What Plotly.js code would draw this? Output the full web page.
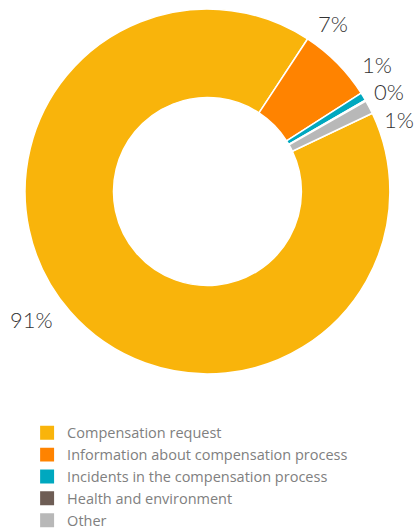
<!DOCTYPE html>
<html>
<head>
<meta charset="utf-8">
<script src="https://cdn.plot.ly/plotly-3.0.1.min.js"></script>
<style>
html,body{margin:0;padding:0;background:#fff;}
#chart{width:417px;height:531px;}
#chart path.legendpie{transform:translate(20px,0px) scale(1.33);}
</style>
</head>
<body>
<div id="chart"></div>
<script>
var categories = ["Compensation request", "Information about compensation process", "Incidents in the compensation process", "Health and environment", "Other"];
var values = [91.3, 6.7, 0.7, 0.1, 1.2];
var percentLabels = ["91%", "7%", "1%", "0%", "1%"];
var colors = ["#F9B40B", "#FF8300", "#00A8BF", "#6E5D55", "#B8B8B8"];

var W = 417, H = 531;
var rotation = 64.6;
var domX = [0.06, 0.935], domY = [0.2957, 0.983];

// label placement styling (angular nudge in degrees, radial factor)
var labelNudge = [5, -8.5, -5.5, 1, 7];
var labelRad = [1.19, 1.15, 1.16, 1.135, 1.12];

var trace = {
  type: "pie",
  labels: categories,
  values: values,
  sort: false,
  direction: "clockwise",
  rotation: rotation,
  hole: 0.515,
  marker: {colors: colors, line: {color: "#ffffff", width: 1.5}},
  textinfo: "none",
  domain: {x: domX, y: domY},
  hoverinfo: "none"
};

// compute outside label positions from the values
var total = values.reduce(function(a, b) { return a + b; }, 0);
var cx = (domX[0] + domX[1]) / 2 * W;
var cyPx = H - (domY[0] + domY[1]) / 2 * H;
var R = Math.min((domX[1] - domX[0]) * W, (domY[1] - domY[0]) * H) / 2;
var annotations = [];
var cum = 0;
for (var i = 0; i < values.length; i++) {
  var mid = rotation + (cum + values[i] / 2) / total * 360 + labelNudge[i];
  cum += values[i];
  var a = mid * Math.PI / 180;
  var px = cx + R * labelRad[i] * Math.sin(a);
  var py = cyPx - R * labelRad[i] * Math.cos(a);
  annotations.push({
    xref: "paper", yref: "paper",
    x: px / W, y: 1 - py / H,
    xanchor: "center", yanchor: "middle",
    text: percentLabels[i],
    showarrow: false,
    font: {family: "Lato, sans-serif", size: 22, color: "#333333", weight: 300}
  });
}

var layout = {
  width: W,
  height: H,
  margin: {l: 0, r: 0, t: 0, b: 0, autoexpand: false},
  paper_bgcolor: "#ffffff",
  showlegend: true,
  annotations: annotations,
  legend: {
    x: 0.065, xanchor: "left",
    y: 0.215, yanchor: "top",
    font: {family: "Open Sans, sans-serif", size: 14.5, color: "#808080"},
    tracegroupgap: 0,
    itemwidth: 30
  }
};

Plotly.newPlot("chart", [trace], layout, {displayModeBar: false, staticPlot: true});
</script>
</body>
</html>
